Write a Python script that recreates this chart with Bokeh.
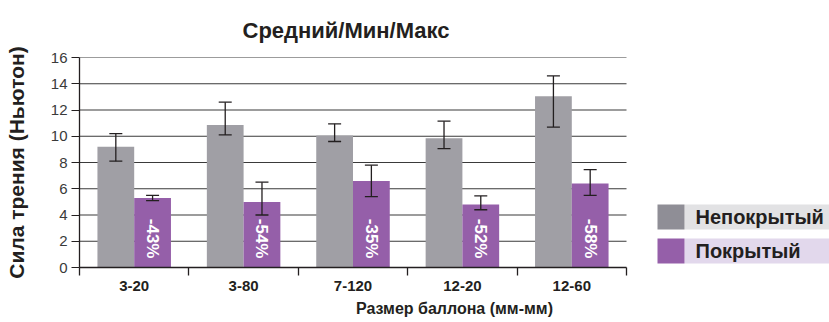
import numpy as np
from bokeh.plotting import figure
from bokeh.models import Range1d, FixedTicker, ColumnDataSource, Whisker, TeeHead
from bokeh.core.properties import value
from bokeh.embed import file_html
from bokeh.resources import INLINE

# ---------------- data ----------------
categories = ["3-20", "3-80", "7-120", "12-20", "12-60"]
uncoated_mean = [9.2, 10.85, 10.05, 9.85, 13.05]
uncoated_min = [8.1, 10.1, 9.6, 9.05, 10.7]
uncoated_max = [10.2, 12.6, 10.95, 11.15, 14.6]
coated_mean = [5.3, 5.0, 6.6, 4.8, 6.4]
coated_min = [5.1, 4.0, 5.4, 4.4, 5.5]
coated_max = [5.5, 6.5, 7.8, 5.45, 7.45]
reduction_labels = ["-43%", "-54%", "-35%", "-52%", "-58%"]
series_names = ["Непокрытый", "Покрытый"]
y_ticks = [0, 2, 4, 6, 8, 10, 12, 14, 16]

# ---------------- style ----------------
FONT = "Liberation Sans"
GRAY = "#a09fa5"
PURPLE = "#955fa9"
LEG_SWATCH = ["#8f8e96", "#955fa9"]
LEG_BG = ["#e2e2e4", "#e2d8ec"]
DARK = "#231f20"

W, H = 829, 322
LEFT, TOP, BOTTOM = 79, 57, 55
FRAME_RIGHT = 626
FRAME_H = H - TOP - BOTTOM
n = len(categories)
xmax = n * (W - LEFT) / (FRAME_RIGHT - LEFT)

p = figure(width=W, height=H, x_range=Range1d(0, xmax), y_range=Range1d(0, 16),
           output_backend="svg", toolbar_location=None,
           min_border_left=LEFT, min_border_top=TOP, min_border_right=0,
           min_border_bottom=BOTTOM)
p.outline_line_color = None
p.xgrid.visible = False
p.ygrid.visible = False
p.background_fill_color = "white"

# title
p.title.text = "Средний/Мин/Макс"
p.title.text_font = FONT
p.title.text_font_size = "22px"
p.title.text_font_style = "bold"
p.title.text_color = DARK
p.title.align = "left"
p.title.offset = 163
p.title.standoff = 29

# grid lines (only over the category span)
grid_vals = [t for t in y_ticks if t > 0]
p.segment(x0=[0] * len(grid_vals), x1=[n] * len(grid_vals), y0=grid_vals, y1=grid_vals,
          line_color="#3a3a3a", line_width=1.1)

cx = np.arange(n) + 0.5
off, bw = 0.168, 0.336
p.vbar(x=cx - off, top=uncoated_mean, width=bw, fill_color=GRAY, line_color=None)
p.vbar(x=cx + off, top=coated_mean, width=bw, fill_color=PURPLE, line_color=None)

for xs, lo, hi in [(cx - off, uncoated_min, uncoated_max), (cx + off, coated_min, coated_max)]:
    src = ColumnDataSource(dict(x=list(xs), lo=lo, hi=hi))
    w = Whisker(source=src, base="x", lower="lo", upper="hi", level="overlay",
                line_color=DARK, line_width=1.3,
                upper_head=TeeHead(size=13, line_color=DARK, line_width=1.3),
                lower_head=TeeHead(size=13, line_color=DARK, line_width=1.3))
    p.add_layout(w)

p.text(x=cx + off, y=[2.2] * n, text=reduction_labels, angle=-np.pi / 2,
       text_color="white", text_font=value(FONT), text_font_style="bold",
       text_font_size="17px", text_align="center", text_baseline="middle")

# legend drawn in the empty right part of the frame
px_y = 16 / FRAME_H
leg_top = [16 - (204 - TOP) * px_y, 16 - (238 - TOP) * px_y]
leg_h = 25 * px_y
x_unit = n / (FRAME_RIGHT - LEFT)
sw_l = n + 31 * x_unit
sw_r = sw_l + 27 * x_unit
txt_x = sw_r + 11 * x_unit
p.quad(left=[sw_r] * 2, right=[xmax] * 2, top=leg_top, bottom=[t - leg_h for t in leg_top],
       fill_color=LEG_BG, line_color=None)
p.quad(left=[sw_l] * 2, right=[sw_r] * 2, top=leg_top, bottom=[t - leg_h for t in leg_top],
       fill_color=LEG_SWATCH, line_color=None)
p.text(x=[txt_x] * 2, y=[t - leg_h / 2 for t in leg_top], text=series_names,
       text_color=DARK, text_font=value(FONT), text_font_style="bold",
       text_font_size="20px", text_align="left", text_baseline="middle")

# x axis
xa = p.xaxis[0]
xa.ticker = FixedTicker(ticks=list(cx), minor_ticks=list(range(n + 1)))
xa.major_label_overrides = {float(c): cat for c, cat in zip(cx, categories)}
xa.bounds = (0, n)
xa.major_tick_out = 0
xa.major_tick_in = 0
xa.minor_tick_out = 8
xa.minor_tick_in = 0
xa.minor_tick_line_color = DARK
xa.minor_tick_line_width = 1.3
xa.axis_line_color = DARK
xa.axis_line_width = 1.3
xa.major_label_text_font = FONT
xa.major_label_text_font_size = "15px"
xa.major_label_text_font_style = "bold"
xa.major_label_text_color = DARK
xa.major_label_standoff = 5
xa.axis_label = "Размер баллона (мм-мм)"
xa.axis_label_text_font = FONT
xa.axis_label_text_font_size = "16px"
xa.axis_label_text_font_style = "bold"
xa.axis_label_text_color = DARK
xa.axis_label_standoff = 6

# y axis
ya = p.yaxis[0]
ya.ticker = FixedTicker(ticks=y_ticks)
ya.bounds = (0, 16)
ya.major_tick_out = 8
ya.major_tick_in = 0
ya.minor_tick_out = 0
ya.minor_tick_in = 0
ya.major_tick_line_color = DARK
ya.axis_line_color = DARK
ya.axis_line_width = 1.3
ya.major_label_text_font = FONT
ya.major_label_text_font_size = "15px"
ya.major_label_text_color = "#3a3a3a"
ya.major_label_standoff = 4
ya.axis_label = "Сила трения (Ньютон)"
ya.axis_label_text_font = FONT
ya.axis_label_text_font_size = "21px"
ya.axis_label_text_font_style = "bold"
ya.axis_label_text_color = DARK
ya.axis_label_standoff = 20

open("out.html", "w").write(file_html(p, INLINE))
